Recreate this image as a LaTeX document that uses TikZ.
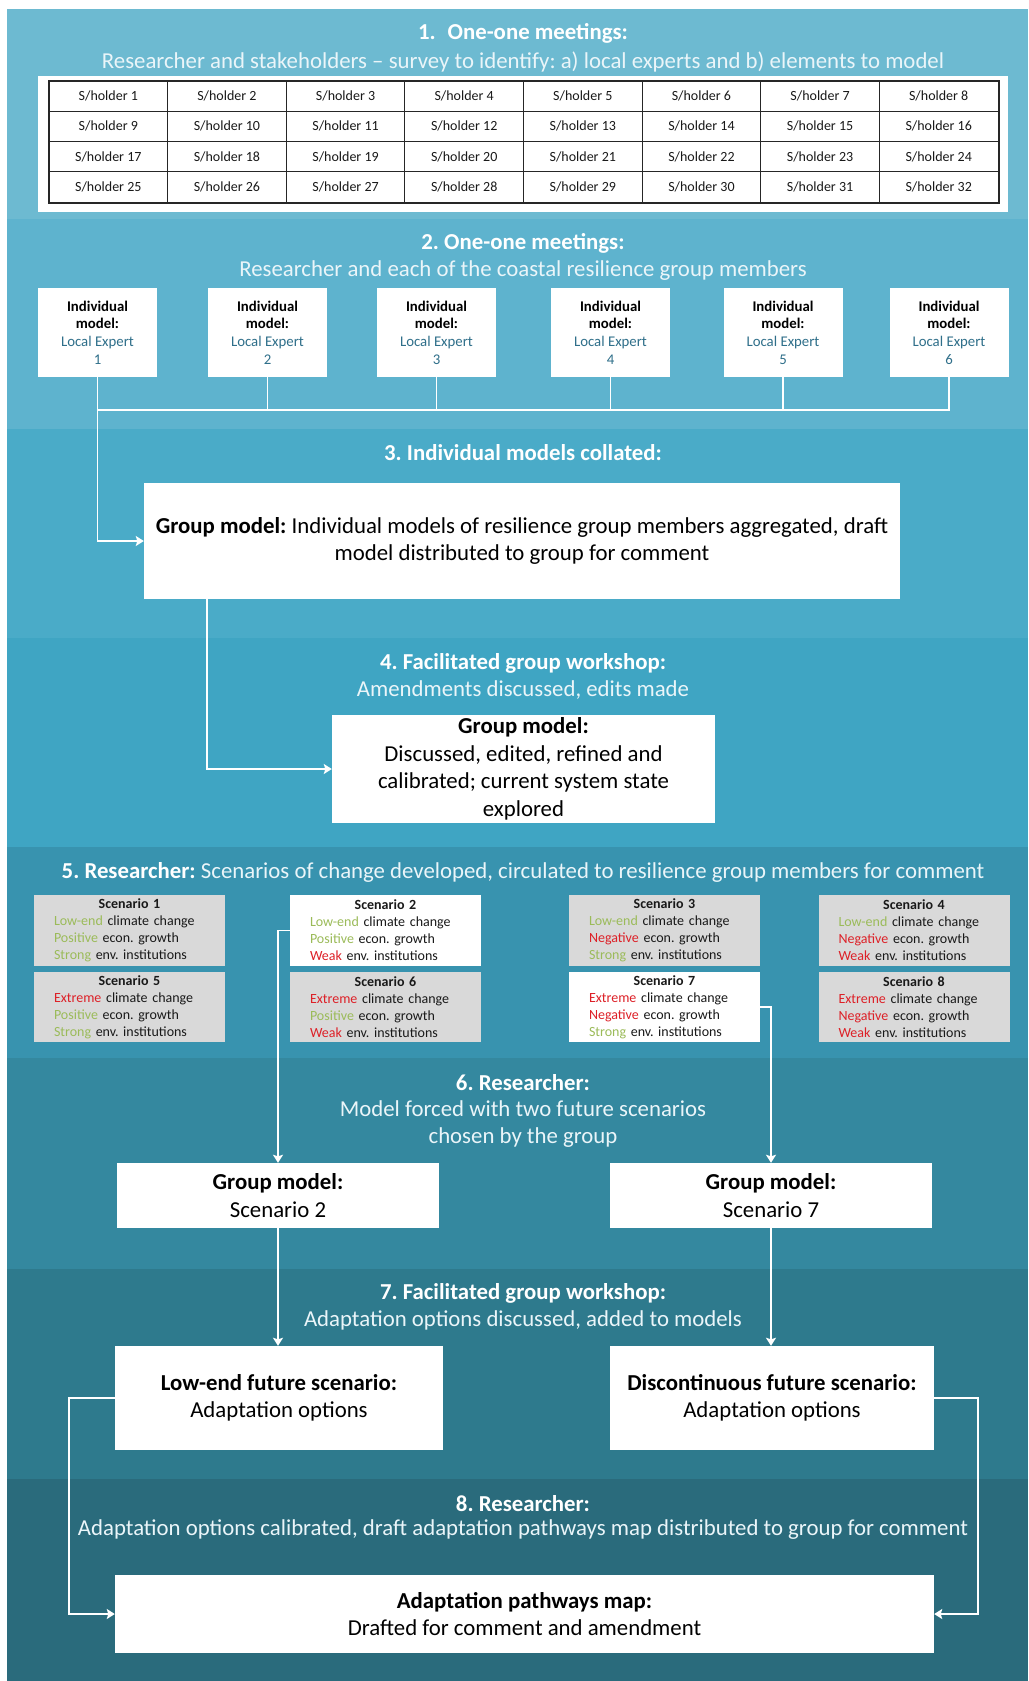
\documentclass[tikz,border=0pt]{standalone}
\usepackage{fontspec}
\setmainfont{Carlito}
\usetikzlibrary{arrows.meta}

% band colours, from light to dark
\definecolor{bandA}{HTML}{6DBAD1}
\definecolor{bandB}{HTML}{5EB3CE}
\definecolor{bandC}{HTML}{4AABC8}
\definecolor{bandD}{HTML}{3FA5C3}
\definecolor{bandE}{HTML}{3893AF}
\definecolor{bandF}{HTML}{34889F}
\definecolor{bandG}{HTML}{2E7A8D}
\definecolor{bandH}{HTML}{2A6B7C}
\definecolor{subwhite}{HTML}{EAF5F9}
\definecolor{expertblue}{HTML}{2F6F8A}
\definecolor{okgreen}{HTML}{9BBB59}
\definecolor{badred}{HTML}{DD2027}
\definecolor{scengrey}{HTML}{D9D9D9}

\newcommand{\fsz}[2]{\fontsize{#1}{#2}\selectfont}
\newcommand{\gw}[1]{\textcolor{okgreen}{#1}}
\newcommand{\rw}[1]{\textcolor{badred}{#1}}
\frenchspacing

\begin{document}
\begin{tikzpicture}[x=1pt,y=-1pt,
  ttl/.style={text=white, font=\fsz{22.8}{27}\bfseries, inner sep=0pt, align=center},
  sub/.style={text=subwhite, font=\fsz{22.8}{27}, inner sep=0pt, align=center},
  box/.style={fill=white, inner sep=0pt, align=center, text=black, font=\fsz{22.8}{27.5}},
  cell/.style={draw=black!85, line width=1pt, inner sep=0pt, minimum width=118.625pt,
    minimum height=30.25pt, font=\fsz{14}{17}, text=black!90},
  expert/.style={fill=white, inner sep=0pt, minimum width=119pt, minimum height=89pt,
    align=center, font=\fsz{14.8}{17.7}, text=black},
  scen/.style={fill=scengrey, inner xsep=20pt, inner ysep=0pt, text width=151pt,
    minimum height=70.5pt, align=left, font=\fsz{14}{17}, text=black!90},
  conn/.style={draw=white, line width=1.8pt},
  arr/.style={conn, -{Stealth[length=8pt,width=10pt,inset=1.5pt]}},
]
\path[use as bounding box, fill=white] (0,0) rectangle (1028,1681);

% stage bands
\fill[bandA] (7,9)    rectangle (1028,218.5);
\fill[bandB] (7,218.5) rectangle (1028,428.5);
\fill[bandC] (7,428.5) rectangle (1028,638);
\fill[bandD] (7,638)  rectangle (1028,847);
\fill[bandE] (7,847)  rectangle (1028,1058);
\fill[bandF] (7,1058) rectangle (1028,1268.5);
\fill[bandG] (7,1268.5) rectangle (1028,1478.5);
\fill[bandH] (7,1478.5) rectangle (1028,1681);

% 1. stakeholder survey
\node[ttl] (t1) at (523,33) {1.\hspace{12pt}One-one meetings:};
\node[sub] (u1) at (523,62) {Researcher and stakeholders -- survey to identify: a) local experts and b) elements to model};
\node[fill=white, inner sep=0pt, minimum width=970pt, minimum height=136pt] (tbl) at (523,144) {};
\foreach \r in {0,...,3}
  \foreach \c in {0,...,7}{
    \pgfmathtruncatemacro\n{\r*8+\c+1}
    \node[cell] (c\n) at ({49+118.625*(\c+0.5)},{81+30.25*(\r+0.5)}) {S/holder \n};
  }
\draw[line width=2pt, black!85] (c1.north west) rectangle (c32.south east);

% 2. individual models
\node[ttl] (t2) at (523,243) {2. One-one meetings:};
\node[sub] (u2) at (523,271) {Researcher and each of the coastal resilience group members};
\foreach \i/\x in {1/97.5,2/267.5,3/436.5,4/610.5,5/783,6/949}
  \node[expert] (e\i) at (\x,332.5)
    {\textbf{Individual}\\\textbf{model:}\\\textcolor{expertblue}{Local Expert}\\\textcolor{expertblue}{\i}};
\coordinate (bus) at (0,410);
\foreach \i in {2,...,5}
  \draw[conn] (e\i.south) -- (e\i.south |- bus);
\draw[conn] (e1.south |- bus) -- (e6.south |- bus) -- (e6.south);

% 3. collation
\node[ttl] (t3) at (523,453) {3. Individual models collated:};
\node[box, minimum width=756pt, minimum height=116pt] (grp) at (522,541)
  {\textbf{Group model:} Individual models of resilience group members aggregated, draft\\model distributed to group for comment};
\draw[arr] (e1.south) |- (grp);

% 4. first workshop
\node[ttl] (t4) at (523,663) {4. Facilitated group workshop:};
\node[sub] (u4) at (523,690) {Amendments discussed, edits made};
\node[box, minimum width=383pt, minimum height=108pt] (gm4) at (523.5,769)
  {\textbf{Group model:}\\Discussed, edited, refined and\\calibrated; current system state\\explored};
\draw[arr] ([xshift=63pt]grp.south west) |- (gm4);

% 5. scenarios
\node[sub] (t5) at (523,872) {\textcolor{white}{\bfseries 5. Researcher:} Scenarios of change developed, circulated to resilience group members for comment};
\node[scen] (s1) at (129.5,930.5) {\makebox[151pt][c]{\bfseries Scenario 1}\\\gw{Low-end} climate change\\\gw{Positive} econ. growth\\\gw{Strong} env. institutions};
\node[scen, fill=white] (s2) at (385.5,930.5) {\makebox[151pt][c]{\bfseries Scenario 2}\\\gw{Low-end} climate change\\\gw{Positive} econ. growth\\\rw{Weak} env. institutions};
\node[scen] (s3) at (664.5,930.5) {\makebox[151pt][c]{\bfseries Scenario 3}\\\gw{Low-end} climate change\\\rw{Negative} econ. growth\\\gw{Strong} env. institutions};
\node[scen] (s4) at (914,930.5) {\makebox[151pt][c]{\bfseries Scenario 4}\\\gw{Low-end} climate change\\\rw{Negative} econ. growth\\\rw{Weak} env. institutions};
\node[scen] (s5) at (129.5,1007) {\makebox[151pt][c]{\bfseries Scenario 5}\\\rw{Extreme} climate change\\\gw{Positive} econ. growth\\\gw{Strong} env. institutions};
\node[scen] (s6) at (385.5,1007) {\makebox[151pt][c]{\bfseries Scenario 6}\\\rw{Extreme} climate change\\\gw{Positive} econ. growth\\\rw{Weak} env. institutions};
\node[scen, fill=white] (s7) at (664.5,1007) {\makebox[151pt][c]{\bfseries Scenario 7}\\\rw{Extreme} climate change\\\rw{Negative} econ. growth\\\gw{Strong} env. institutions};
\node[scen] (s8) at (914,1007) {\makebox[151pt][c]{\bfseries Scenario 8}\\\rw{Extreme} climate change\\\rw{Negative} econ. growth\\\rw{Weak} env. institutions};

% 6. forced models
\node[ttl] (t6) at (523,1083) {6. Researcher:};
\node[sub] (u6) at (523,1124.5) {Model forced with two future scenarios\\chosen by the group};
\node[box, minimum width=322pt, minimum height=65pt] (gs2) at (278,1195.5) {\textbf{Group model:}\\Scenario 2};
\node[box, minimum width=322pt, minimum height=65pt] (gs7) at (771,1195.5) {\textbf{Group model:}\\Scenario 7};
\draw[arr] (s2.west) -| (gs2.north);
\draw[arr] (s7.east) -| (gs7.north);

% 7. second workshop
\node[ttl] (t7) at (523,1293) {7. Facilitated group workshop:};
\node[sub] (u7) at (523,1320) {Adaptation options discussed, added to models};
\node[box, minimum width=328pt, minimum height=104pt] (lo) at (279,1398) {\textbf{Low-end future scenario:}\\Adaptation options};
\node[box, minimum width=324pt, minimum height=104pt] (disc) at (772,1398) {\textbf{Discontinuous future scenario:}\\Adaptation options};
\draw[arr] (gs2.south) -- (gs2.south |- lo.north);
\draw[arr] (gs7.south) -- (gs7.south |- disc.north);

% 8. pathways map
\node[ttl] (t8) at (523,1504) {8. Researcher:};
\node[sub] (u8) at (523,1530) {Adaptation options calibrated, draft adaptation pathways map distributed to group for comment};
\node[box, minimum width=819pt, minimum height=78pt] (map) at (524.5,1614) {\textbf{Adaptation pathways map:}\\Drafted for comment and amendment};
\draw[arr] (lo.west) -- ++(-46,0) |- (map.west);
\draw[arr] (disc.east) -- ++(44,0) |- (map.east);
\end{tikzpicture}
\end{document}
